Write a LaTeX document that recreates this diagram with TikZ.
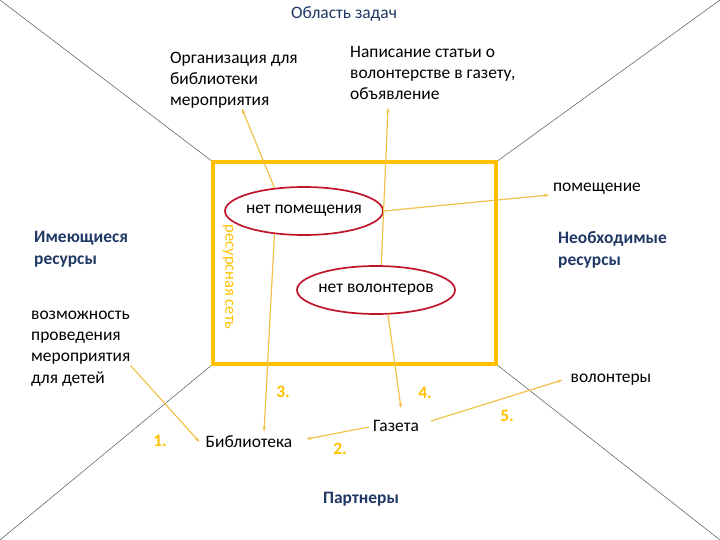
\documentclass[tikz,border=0pt]{standalone}
\usepackage{fontspec}
\setmainfont{Carlito}
\usetikzlibrary{shapes.geometric,arrows.meta,calc}
\definecolor{gold}{HTML}{FFC000}
\definecolor{linegold}{HTML}{F2C14A}
\definecolor{redline}{HTML}{C0142A}
\definecolor{darkblue}{HTML}{1F3864}
\definecolor{diagline}{HTML}{4A5568}
\tikzset{
  txt/.style={font=\fontsize{17.5}{21.2}\selectfont, align=left, inner sep=0pt},
  head/.style={txt, font=\fontsize{17.5}{22.5}\selectfont\bfseries, text=darkblue},
  num/.style={font=\fontsize{17.5}{20}\selectfont\bfseries, text=gold, inner sep=0pt},
  oval/.style={ellipse, draw=redline, line width=1.7pt, minimum width=158bp,
    minimum height=48bp, inner xsep=-10bp, inner ysep=0pt, font=\fontsize{17.5}{20}\selectfont},
  link/.style={draw=linegold, line width=1.2pt, -{Stealth[length=5pt,width=3.5pt]}},
}
\begin{document}
\begin{tikzpicture}[x=1bp,y=-1bp]
  \useasboundingbox (0,0) rectangle (720,540);
  % corners of the frame
  \coordinate (tl) at (213,162);
  \coordinate (tr) at (496,162);
  \coordinate (br) at (496,364);
  \coordinate (bl) at (213,364);
  \draw[diagline, line width=0.5pt] (0,0) -- (tl);
  \draw[diagline, line width=0.5pt] (720,0) -- (tr);
  \draw[diagline, line width=0.5pt] (720,540) -- (br);
  \draw[diagline, line width=0.5pt] (0,540) -- (bl);
  \draw[gold, line width=4bp] (tl) rectangle (br);
  \node[txt, font=\fontsize{16.5}{20}\selectfont, text=gold, rotate=-90] (net) at (228,277) {ресурсная сеть};

  \node[txt, text=darkblue] (title) at (344,14) {Область задач};
  \node[txt, anchor=north west] (org) at (170,52) {Организация для\\библиотеки\\мероприятия};
  \node[txt, anchor=north west] (nap) at (350,46) {Написание статьи о\\волонтерстве в газету,\\объявление};
  \node[txt] (pom) at (597,189) {помещение};
  \node[head, anchor=north west] (have) at (34,231) {Имеющиеся\\ресурсы};
  \node[head, anchor=north west] (need) at (558,231) {Необходимые\\ресурсы};
  \node[txt, anchor=north west] (voz) at (31,311) {возможность\\проведения\\мероприятия\\для детей};
  \node[oval] (nopom) at (304,211) {нет помещения};
  \node[oval] (nvol) at (376,290) {нет волонтеров};
  \node[txt] (bibl) at (249,442) {Библиотека};
  \node[txt] (gaz) at (396,426) {Газета};
  \node[txt] (vol) at (611,380) {волонтеры};
  \node[head] (part) at (361,499) {Партнеры};

  \node[num] (n1) at (160,441) {1.};
  \node[num] (n2) at (340,449) {2.};
  \node[num] (n3) at (283,392) {3.};
  \node[num] (n4) at (425,393) {4.};
  \node[num] (n5) at (507,416) {5.};

  \draw[link] (nopom.142) -- ($(org.south west)+(72,0)$);
  \draw[link] (nvol.78) -- ($(nap.south west)+(38,8)$);
  \draw[link] (nopom.east) -- ($(pom.west)+(-4,6)$);
  \draw[link] (nopom.-142) -- ($(bibl.north)+(15,-4)$);
  \draw[link] (nvol.-64) -- ($(gaz.north)+(5,-12)$);
  \draw[link] ($(gaz.west)+(-4,1)$) -- ($(bibl.east)+(14,-3)$);
  \draw[link] ($(voz.east)+(0,17)$) -- ($(bibl.west)+(-6,0)$);
  \draw[link] ($(gaz.east)+(12,-5)$) -- ($(vol.west)+(-8,0)$);
\end{tikzpicture}
\end{document}
